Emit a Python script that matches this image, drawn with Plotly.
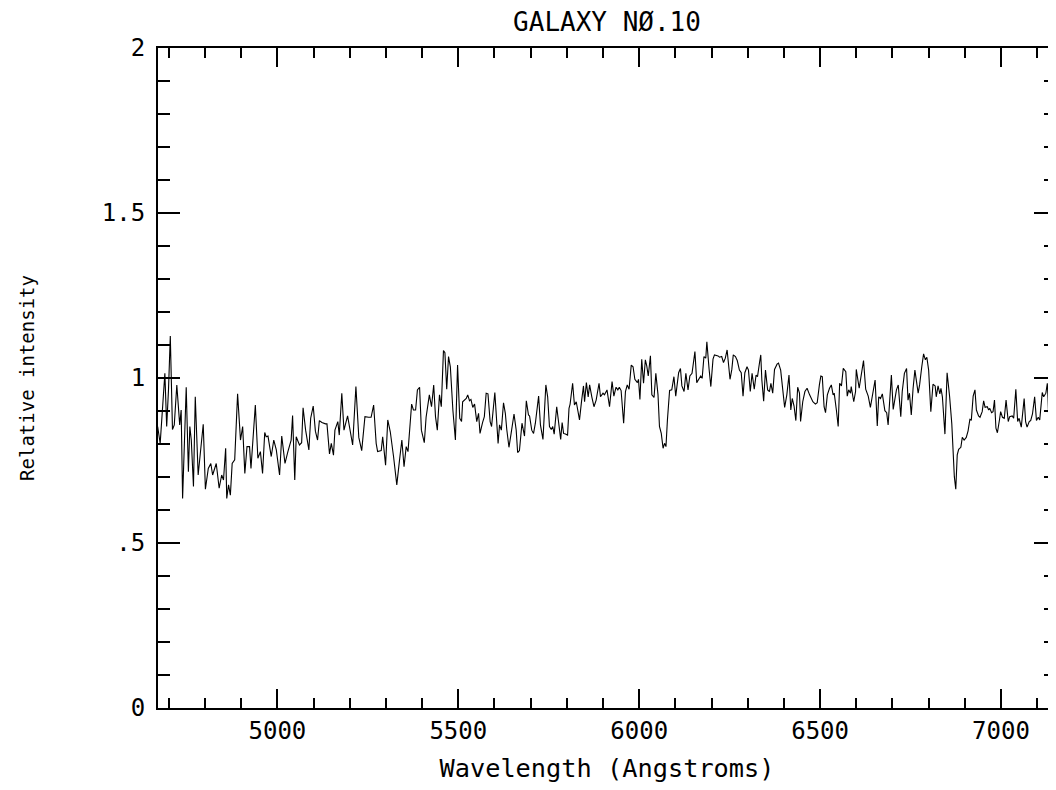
import plotly.graph_objects as go

wavelength = [
    4669, 4676, 4689, 4694, 4699, 4704, 4710, 4715, 4722, 4730, 4734, 4738, 4748, 4754, 4758, 4762, 4768, 4773, 4781, 4795,
    4801, 4809, 4816, 4821, 4831, 4839, 4846, 4851, 4857, 4860, 4865, 4870, 4875, 4882, 4890, 4898, 4904, 4910, 4916, 4923,
    4927, 4939, 4946, 4953, 4959, 4965, 4969, 4974, 4983, 4990, 4997, 5006, 5012, 5021, 5029, 5038, 5042, 5048, 5052, 5061,
    5067, 5071, 5078, 5087, 5092, 5099, 5105, 5111, 5116, 5123, 5133, 5137, 5144, 5149, 5155, 5159, 5167, 5171, 5178, 5184,
    5194, 5201, 5208, 5217, 5225, 5233, 5242, 5252, 5259, 5266, 5273, 5277, 5287,
    5291, 5299, 5305, 5312, 5321, 5330, 5337, 5344, 5350, 5356, 5361, 5371, 5376, 5382, 5387, 5393, 5398, 5406, 5411, 5420,
    5426, 5432, 5437, 5442, 5448, 5453, 5459, 5463, 5468, 5473, 5478, 5485, 5492, 5498, 5504, 5509, 5512, 5522, 5526, 5531,
    5535, 5540, 5545, 5551, 5556, 5560, 5567, 5572, 5577, 5582, 5588, 5592, 5601, 5606, 5610, 5614, 5619, 5625, 5630, 5634,
    5640, 5646, 5654, 5660, 5664, 5669, 5676, 5683, 5688, 5694, 5697, 5703, 5708, 5713, 5722, 5727, 5734, 5742, 5747, 5752,
    5757, 5761, 5765, 5772, 5776, 5783, 5787, 5791, 5796, 5802, 5806, 5809, 5816, 5821, 5826, 5830, 5835, 5841, 5846, 5849,
    5854, 5859, 5863, 5869, 5875, 5881, 5889, 5893, 5900, 5904, 5911,
    5918, 5925, 5930, 5936, 5941, 5945, 5950, 5957, 5962, 5967, 5972, 5978, 5983, 5988, 5995, 5998, 6002, 6007, 6012, 6017,
    6021, 6025, 6031, 6035, 6041, 6046, 6052, 6056, 6061, 6066, 6070, 6074, 6078, 6084, 6090, 6096, 6101, 6106, 6109, 6114,
    6118, 6124, 6129, 6135, 6140, 6146, 6150, 6154, 6159, 6164, 6170, 6174, 6179, 6184, 6187, 6193, 6198, 6204, 6208, 6218,
    6222, 6228, 6233, 6238, 6243, 6251, 6256, 6260, 6266, 6271, 6277, 6282, 6287, 6292, 6298, 6302, 6307, 6312, 6314, 6318,
    6323, 6327, 6333, 6336, 6339, 6344, 6349, 6355, 6360, 6364, 6369, 6374, 6381, 6385, 6391, 6396, 6402, 6408, 6414, 6419,
    6423, 6428, 6433, 6438, 6443, 6446, 6452, 6458, 6464, 6471, 6480, 6487, 6492, 6498, 6502, 6506, 6511, 6515, 6520, 6526,
    6531,
    6536, 6539, 6545, 6550, 6554, 6559, 6564, 6571, 6575, 6579, 6584, 6586, 6593, 6598, 6600, 6608, 6613, 6620, 6626, 6631,
    6633, 6639, 6644, 6648, 6652, 6658, 6662, 6667, 6672, 6679, 6684, 6688, 6692, 6697, 6702, 6707, 6711, 6716, 6723, 6727,
    6733, 6739, 6743, 6747, 6752, 6757, 6762, 6771, 6775, 6781, 6786, 6791, 6795, 6800, 6806, 6812, 6818, 6821, 6826, 6831,
    6834, 6838, 6845, 6851, 6855, 6858, 6864, 6868, 6871, 6875, 6879, 6883, 6889, 6893, 6898, 6904, 6909, 6914, 6918, 6923,
    6928, 6932, 6938, 6942, 6948, 6952, 6956, 6962, 6966, 6969, 6974, 6978, 6982, 6986, 6990, 6996, 6999, 7004, 7009, 7014,
    7020, 7024, 7031, 7035, 7041, 7046, 7050, 7056, 7061, 7064, 7068, 7072, 7078, 7082, 7087, 7093, 7098, 7103, 7107, 7114,
    7118, 7124, 7128, 7130, 7135, 7140, 7152,
]

intensity = [
    0.853, 0.802, 1.014, 0.853, 0.964, 1.127, 0.844, 0.858, 0.979, 0.858, 0.903, 0.635, 0.972, 0.716, 0.853, 0.812, 0.671, 0.943, 0.706, 0.860,
    0.663, 0.726, 0.741, 0.706, 0.741, 0.666, 0.706, 0.691, 0.787, 0.635, 0.676, 0.645, 0.741, 0.752, 0.952, 0.812, 0.853, 0.711, 0.792, 0.792,
    0.726, 0.918, 0.757, 0.777, 0.711, 0.835, 0.822, 0.824, 0.762, 0.812, 0.782, 0.706, 0.824, 0.741, 0.777, 0.812, 0.886, 0.691, 0.822, 0.797,
    0.804, 0.910, 0.842, 0.782, 0.878, 0.915, 0.839, 0.812, 0.871, 0.865, 0.861, 0.861, 0.770, 0.802, 0.766, 0.842, 0.868, 0.827, 0.954, 0.842,
    0.885, 0.842, 0.797, 0.974, 0.820, 0.780, 0.883, 0.881, 0.881, 0.918, 0.802, 0.777, 0.780,
    0.822, 0.736, 0.873, 0.837, 0.762, 0.676, 0.746, 0.812, 0.731, 0.792, 0.777, 0.921, 0.903, 0.903, 0.964, 0.972, 0.842, 0.804, 0.881, 0.949,
    0.913, 0.979, 0.883, 0.842, 0.949, 0.913, 1.083, 1.077, 0.966, 1.065, 1.034, 0.903, 0.812, 1.039, 0.878, 0.868, 0.928, 0.938, 0.949, 0.931,
    0.935, 0.911, 0.921, 0.868, 0.893, 0.832, 0.865, 0.883, 0.954, 0.952, 0.868, 0.853, 0.956, 0.883, 0.802, 0.858, 0.842, 0.925, 0.893, 0.844,
    0.790, 0.832, 0.891, 0.842, 0.774, 0.780, 0.863, 0.824, 0.931, 0.888, 0.885, 0.842, 0.832, 0.863, 0.945, 0.858, 0.814, 0.979, 0.943, 0.853,
    0.844, 0.853, 0.830, 0.913, 0.873, 0.814, 0.865, 0.832, 0.830, 0.827, 0.908, 0.921, 0.984, 0.918, 0.928, 0.908, 0.873, 0.933, 0.976, 0.928,
    0.986, 0.943, 0.979, 0.943, 0.913, 0.933, 0.984, 0.943, 0.954, 0.949, 0.964,
    0.913, 0.989, 0.945, 0.972, 0.964, 0.972, 0.962, 0.863, 0.959, 0.979, 0.966, 1.039, 1.034, 0.996, 0.986, 0.996, 0.935, 1.057, 0.984, 1.055,
    1.036, 1.006, 1.067, 0.949, 0.941, 1.014, 0.949, 0.853, 0.832, 0.787, 0.802, 0.792, 0.873, 0.962, 0.964, 1.004, 0.945, 0.994, 1.016, 1.029,
    0.976, 0.959, 1.014, 0.964, 1.006, 1.014, 1.050, 1.080, 0.986, 0.996, 1.006, 0.999, 1.065, 1.060, 1.110, 1.029, 0.974, 1.057, 1.070, 1.067,
    1.063, 1.065, 1.047, 1.060, 1.085, 0.996, 1.026, 1.070, 1.065, 1.053, 1.024, 1.016, 0.945, 1.016, 1.034, 1.024, 0.959, 1.014, 0.994, 0.966,
    1.009, 1.004, 1.050, 1.070, 0.994, 0.930, 1.024, 0.964, 0.959, 0.984, 0.954, 1.026, 1.042, 1.045, 1.024, 0.964, 0.911, 0.949, 1.009, 0.903,
    0.938, 0.915, 0.871, 0.972, 0.954, 0.868, 0.928, 0.959, 0.969, 0.949, 0.928, 0.921, 0.925, 0.979, 1.006, 1.004, 0.913, 0.895, 0.949, 0.969,
    0.979,
    0.949, 0.954, 0.903, 0.853, 0.984, 0.976, 1.029, 1.019, 0.945, 0.964, 0.954, 0.974, 0.928, 0.959, 1.026, 0.969, 1.004, 1.053, 0.966, 0.954,
    0.945, 0.911, 0.945, 0.959, 0.994, 0.855, 0.943, 0.938, 0.952, 0.901, 0.895, 0.858, 0.928, 1.009, 0.905, 0.933, 0.964, 0.979, 0.883, 0.959,
    1.014, 1.029, 0.933, 0.954, 0.888, 0.969, 1.024, 0.954, 0.979, 1.034, 1.073, 1.055, 1.063, 1.024, 0.898, 0.981, 0.976, 0.943, 0.976, 0.952,
    0.969, 0.943, 0.830, 1.016, 0.976, 0.943, 0.861, 0.772, 0.701, 0.663, 0.767, 0.784, 0.790, 0.820, 0.812, 0.820, 0.840, 0.875, 0.873, 0.945,
    0.964, 0.903, 0.885, 0.881, 0.898, 0.931, 0.911, 0.913, 0.903, 0.908, 0.895, 0.898, 0.933, 0.848, 0.834, 0.875, 0.898, 0.881, 0.878, 0.933,
    0.868, 0.883, 0.885, 0.878, 0.966, 0.868, 0.878, 0.851, 0.898, 0.938, 0.868, 0.851, 0.868, 0.871, 0.891, 0.943, 0.871, 0.881, 0.873, 0.956,
    0.943, 0.954, 0.984, 0.938, 0.770, 0.928, 0.938,
]

x_range = [4670, 7152]
y_range = [0, 2]
y_tickvals = [0, 0.5, 1, 1.5, 2]
y_ticktext = ["0", ".5", "1", "1.5", "2"]
x_tickvals = [5000, 5500, 6000, 6500, 7000]
x_ticktext = ["5000", "5500", "6000", "6500", "7000"]

title_text = "GALAXY NØ.10"
x_title = "Wavelength (Angstroms)"
y_title = "Relative intensity"

FONT = "DejaVu Sans Mono"

fig = go.Figure()
fig.add_trace(go.Scatter(
    x=wavelength, y=intensity, mode="lines",
    line=dict(color="black", width=1.1),
    showlegend=False, hoverinfo="skip",
))

fig.update_layout(
    width=1056, height=790,
    margin=dict(l=150, r=8, t=40, b=90),
    paper_bgcolor="white", plot_bgcolor="white",
    title=dict(text=title_text, x=0.5, xanchor="center", xref="paper",
               y=0.982, yref="container", yanchor="middle",
               font=dict(family=FONT, size=26, color="black")),
    showlegend=False,
)

fig.update_xaxes(
    range=x_range, showgrid=False, zeroline=False, automargin=False,
    showline=True, linecolor="black", linewidth=2, mirror="allticks",
    ticks="inside", ticklen=19, tickwidth=2, tickcolor="black",
    tickvals=x_tickvals, ticktext=x_ticktext,
    tickfont=dict(family=FONT, size=24, color="black"),
    ticklabelstandoff=0,
    minor=dict(dtick=100, tick0=0, ticks="inside", ticklen=10, tickwidth=2, tickcolor="black", showgrid=False),
    title=dict(text=x_title, font=dict(family=FONT, size=25.3, color="black"), standoff=15),
)

fig.update_yaxes(
    range=y_range, showgrid=False, zeroline=False, automargin=False,
    showline=True, linecolor="black", linewidth=2, mirror="allticks",
    ticks="inside", ticklen=22, tickwidth=2, tickcolor="black",
    tickvals=y_tickvals, ticktext=y_ticktext,
    tickfont=dict(family=FONT, size=24, color="black"),
    ticklabelstandoff=6,
    minor=dict(dtick=0.1, tick0=0, ticks="inside", ticklen=12, tickwidth=2, tickcolor="black", showgrid=False),
    title=dict(text=y_title, font=dict(family=FONT, size=19, color="black"), standoff=62),
)

fig.write_html("out.html")
